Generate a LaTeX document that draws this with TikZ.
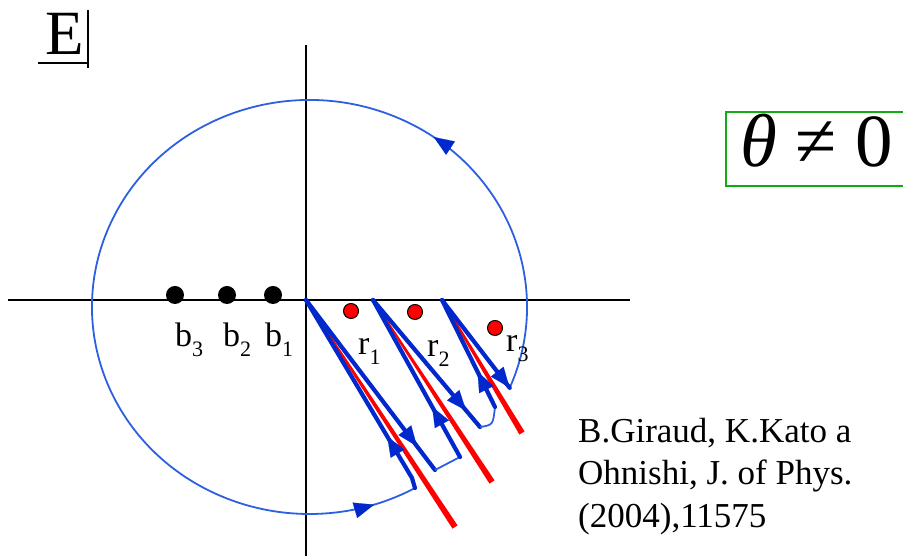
\documentclass[tikz,border=0pt]{standalone}
\usepackage{fontspec}
\setmainfont{Liberation Serif}
\usetikzlibrary{arrows.meta,decorations.markings,calc}
\definecolor{deepblue}{RGB}{0,40,205}
\definecolor{lightblue}{RGB}{45,95,225}
\definecolor{boxgreen}{RGB}{20,170,20}
\definecolor{cutred}{RGB}{255,0,0}
\newcommand\lowsub[1]{\raisebox{-10pt}{\fontsize{22}{22}\selectfont #1}}
\begin{document}
\begin{tikzpicture}[x=1pt,y=1pt,
  axisline/.style={draw=black,line width=1.6pt},
  heavypath/.style={draw=deepblue,line width=4.2pt,line cap=round,line join=round},
  lightpath/.style={draw=lightblue,line width=1.8pt,line join=round},
  tipat/.style={postaction={decorate,decoration={markings,mark=at position #1 with {\arrow{Triangle[length=20pt,width=16pt,color=deepblue,line width=0.1pt]}}}}},
  bdot/.style={circle,fill=black,minimum size=18pt,inner sep=0pt},
  rdot/.style={circle,fill=cutred,draw=black,line width=1pt,minimum size=15pt,inner sep=0pt},
  lab/.style={inner sep=0pt,anchor=base west,font=\fontsize{34}{34}\selectfont},
  cite/.style={inner sep=0pt,anchor=base west,font=\fontsize{35}{35}\selectfont}]
\useasboundingbox (0,0) rectangle (903,556);
\clip (0,0) rectangle (903,556);
% axes
\coordinate (xl) at (8,256);
\coordinate (xr) at (630,256);
\coordinate (yt) at (306,511);
\coordinate (yb) at (306,-2);
\draw[axisline] (xl) -- (xr);
\draw[axisline] (yt) -- (yb);
% key points
\coordinate (C0) at (309.5,249);
\coordinate (T1) at (306,256);
\coordinate (T2) at (373,256);
\coordinate (T3) at (442,256);
\coordinate (Aend) at (435,86);
\coordinate (Cbot) at (460,99);
\coordinate (Dend) at (480,129);
\coordinate (Ebot) at (495,149);
\coordinate (Fend) at ($(C0)+(-23:217.5 and 207)$);
\coordinate (Bbot) at ($(C0)+(299:217.5 and 207)$);
\coordinate (R1) at (455,29);
\coordinate (R2) at (492,74);
\coordinate (R3) at (522,123);
% red cuts (tapered)
\foreach \s/\e in {T1/R1,T2/R2,T3/R3}{
  \fill[cutred] ($(\s)!0.8pt!90:(\e)$) -- ($(\e)!3pt!-90:(\s)$) -- ($(\e)!3pt!90:(\s)$) -- ($(\s)!0.8pt!-90:(\e)$) -- cycle;
}
% circle arc
\draw[lightpath,tipat=0.239,tipat=0.963] (Fend) arc[start angle=-23,end angle=299,x radius=217.5,y radius=207];
% hairpins
\draw[heavypath,tipat=0.27] (Bbot) -- (412,78) -- (T1);
\draw[heavypath,tipat=0.86] (T1) -- (Aend);
\draw[lightpath] (Aend) -- (Cbot);
\draw[heavypath,tipat=0.32] (Cbot) -- (T2);
\draw[heavypath,tipat=0.87] (T2) -- (Dend);
\draw[lightpath] (Dend) .. controls (493,131) .. (Ebot);
\draw[heavypath,tipat=0.33] (Ebot) -- (T3);
\draw[heavypath,tipat=0.999] (T3) -- (Fend);
% dots
\node[bdot] (b3) at (175,261) {};
\node[bdot] (b2) at (227,261) {};
\node[bdot] (b1) at (273,261) {};
\node[rdot] (r1) at (351,245) {};
\node[rdot] (r2) at (415,244) {};
\node[rdot] (r3) at (495,228) {};
% labels
\node[lab] (lb3) at (175,209) {b\lowsub{3}};
\node[lab] (lb2) at (223,209) {b\lowsub{2}};
\node[lab] (lb1) at (265,209) {b\lowsub{1}};
\node[lab] (lr1) at (358,201) {r\lowsub{1}};
\node[lab] (lr2) at (427,199) {r\lowsub{2}};
\node[lab] (lr3) at (506,204) {r\lowsub{3}};
% title
\node[inner sep=0pt,anchor=base west,font=\fontsize{63}{63}\selectfont] (title) at (45,501) {E};
\draw[line width=1.5pt] (38,493) -- (88,493);
\draw[line width=2.5pt] (88,488) -- (88,546);
% theta box
\draw[boxgreen,line width=1.6pt] (726,370) rectangle (915,444);
\node[inner sep=0pt,anchor=base west,font=\fontsize{75}{75}\selectfont] (theta) at (740,389) {\textit{θ} ≠ 0};
% citation
\node[cite] (c1) at (578,113) {B.Giraud, K.Kato a};
\node[cite] (c2) at (578,71) {Ohnishi, J. of Phys.};
\node[cite] (c3) at (578,28) {(2004),11575};
\end{tikzpicture}
\end{document}
